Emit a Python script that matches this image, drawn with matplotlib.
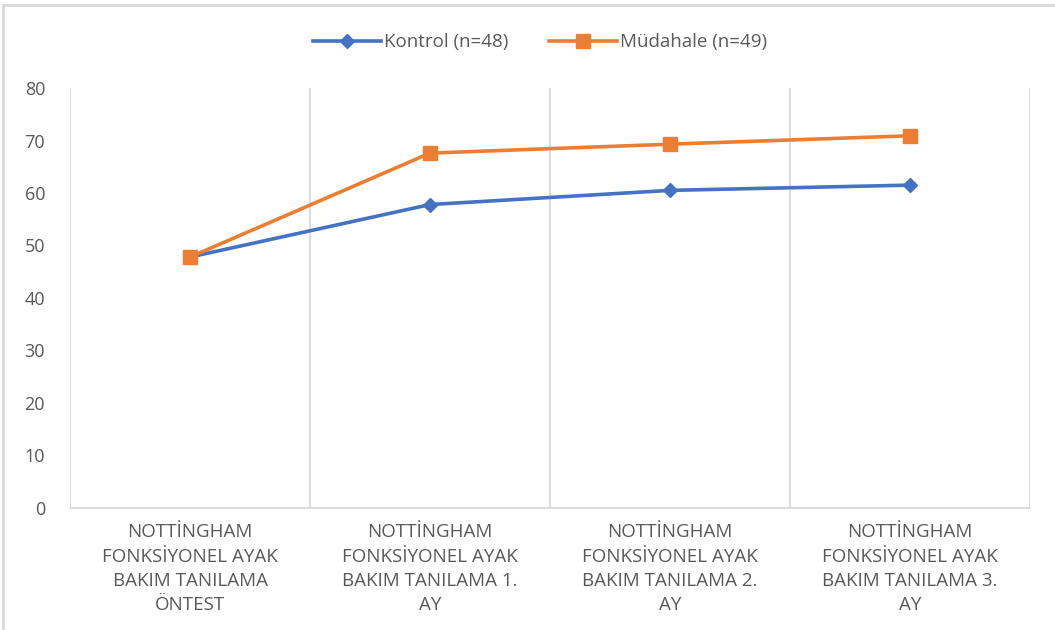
import matplotlib.pyplot as plt
from matplotlib.patches import Rectangle

categories = [
    "NOTTİNGHAM\nFONKSİYONEL AYAK\nBAKIM TANILAMA\nÖNTEST",
    "NOTTİNGHAM\nFONKSİYONEL AYAK\nBAKIM TANILAMA 1.\nAY",
    "NOTTİNGHAM\nFONKSİYONEL AYAK\nBAKIM TANILAMA 2.\nAY",
    "NOTTİNGHAM\nFONKSİYONEL AYAK\nBAKIM TANILAMA 3.\nAY",
]
kontrol = [47.8, 57.8, 60.5, 61.5]
mudahale = [47.8, 67.6, 69.3, 70.9]
y_ticks = [0, 10, 20, 30, 40, 50, 60, 70, 80]

plt.rcParams["font.family"] = ["Open Sans", "DejaVu Sans"]

fig = plt.figure(figsize=(10.55, 6.3), dpi=100)
fig.patches.append(Rectangle((0.003, -0.01), 1.2, 1.002, transform=fig.transFigure,
                             fill=False, edgecolor="#D9D9D9", linewidth=2))
ax = fig.add_axes([0.0664, 0.1937, 0.9099, 0.6666])

x = list(range(len(categories)))
ax.plot(x, kontrol, color="#4472C4", linewidth=2.6, marker="D", markersize=7,
        label="Kontrol (n=48)", zorder=3)
ax.plot(x, mudahale, color="#ED7D31", linewidth=2.6, marker="s", markersize=10,
        label="Müdahale (n=49)", zorder=3)

ax.set_xlim(-0.5, len(categories) - 0.5)
ax.set_ylim(0, 80)
ax.set_yticks(y_ticks)
ax.set_xticks(x)
ax.set_xticklabels(categories, fontsize=13.5, color="#595959", linespacing=1.45)
ax.tick_params(axis="y", labelsize=13, labelcolor="#595959", length=0, pad=18)
ax.tick_params(axis="x", length=0, pad=11)

for b in [i - 0.5 for i in range(len(categories) + 1)]:
    ax.axvline(b, color="#D9D9D9", linewidth=1.3, zorder=1)

for side in ["top", "left", "right"]:
    ax.spines[side].set_visible(False)
ax.spines["bottom"].set_color("#D9D9D9")
ax.spines["bottom"].set_linewidth(1.3)

fig.legend(loc="center", bbox_to_anchor=(0.512, 0.933), ncol=2, frameon=False,
           fontsize=13.5, labelcolor="#595959", handlelength=3.6, columnspacing=2.2,
           handletextpad=0.15)

fig.savefig("out.png")
